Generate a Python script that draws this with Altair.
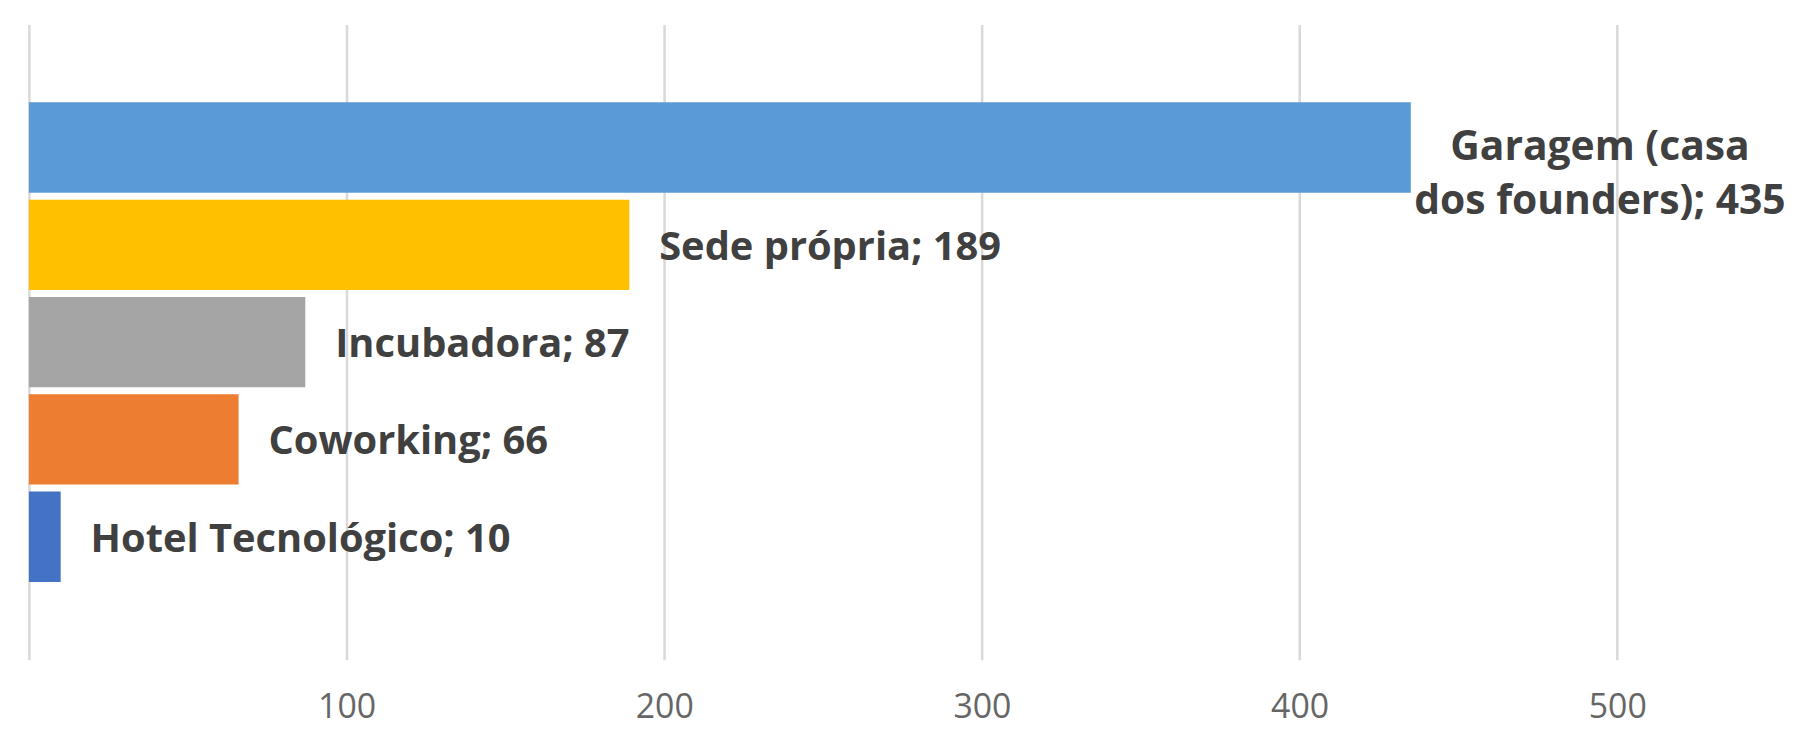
import altair as alt
import pandas as pd

categories = ["Garagem (casa\ndos founders)", "Sede própria", "Incubadora", "Coworking", "Hotel Tecnológico"]
values = [435, 189, 87, 66, 10]
colors = ["#5B9BD5", "#FFC000", "#A5A5A5", "#ED7D31", "#4472C4"]
tick_values = [0, 100, 200, 300, 400, 500]

labels = [f"{c}; {v}" for c, v in zip(categories, values)]
df = pd.DataFrame({"cat": categories, "value": values, "label": labels})

x = alt.X(
    "value:Q",
    scale=alt.Scale(domain=[0, 555], nice=False, zero=True),
    axis=alt.Axis(
        values=tick_values,
        grid=True,
        gridColor="#D9D9D9",
        gridWidth=2.5,
        ticks=False,
        domain=False,
        labelFont="Open Sans",
        labelFontSize=34,
        labelColor="#666666",
        labelPadding=31,
        labelExpr="datum.value == 0 ? '' : datum.label",
        title=None,
    ),
)
y = alt.Y(
    "cat:N",
    sort=categories,
    scale=alt.Scale(paddingInner=0.07, paddingOuter=0.8),
    axis=None,
)

base = alt.Chart(df)

bars = base.mark_bar().encode(
    x=x,
    y=y,
    color=alt.Color("cat:N", scale=alt.Scale(domain=categories, range=colors), legend=None),
)

text_left = base.transform_filter(alt.datum.value < 400).mark_text(
    align="left", baseline="middle", dx=30, dy=3,
    font="Open Sans", fontSize=40, fontWeight="bold", color="#404040",
).encode(x="value:Q", y=alt.Y("cat:N", sort=categories), text="label:N")

text_big = base.transform_filter(alt.datum.value >= 400).mark_text(
    align="center", baseline="middle", dx=190, lineBreak="\n", lineHeight=55,
    font="Open Sans", fontSize=41, fontWeight="bold", color="#404040",
).encode(x="value:Q", y=alt.Y("cat:N", sort=categories), text="label:N")

chart = (
    alt.layer(bars, text_left, text_big)
    .properties(
        width=1771,
        height=638,
        autosize=alt.AutoSizeParams(type="none"),
        padding={"left": 21, "top": 15, "right": 4, "bottom": 70},
        background="white",
    )
    .configure_view(stroke=None)
)

chart.save("out.html", embed_options={"renderer": "svg", "actions": False})
